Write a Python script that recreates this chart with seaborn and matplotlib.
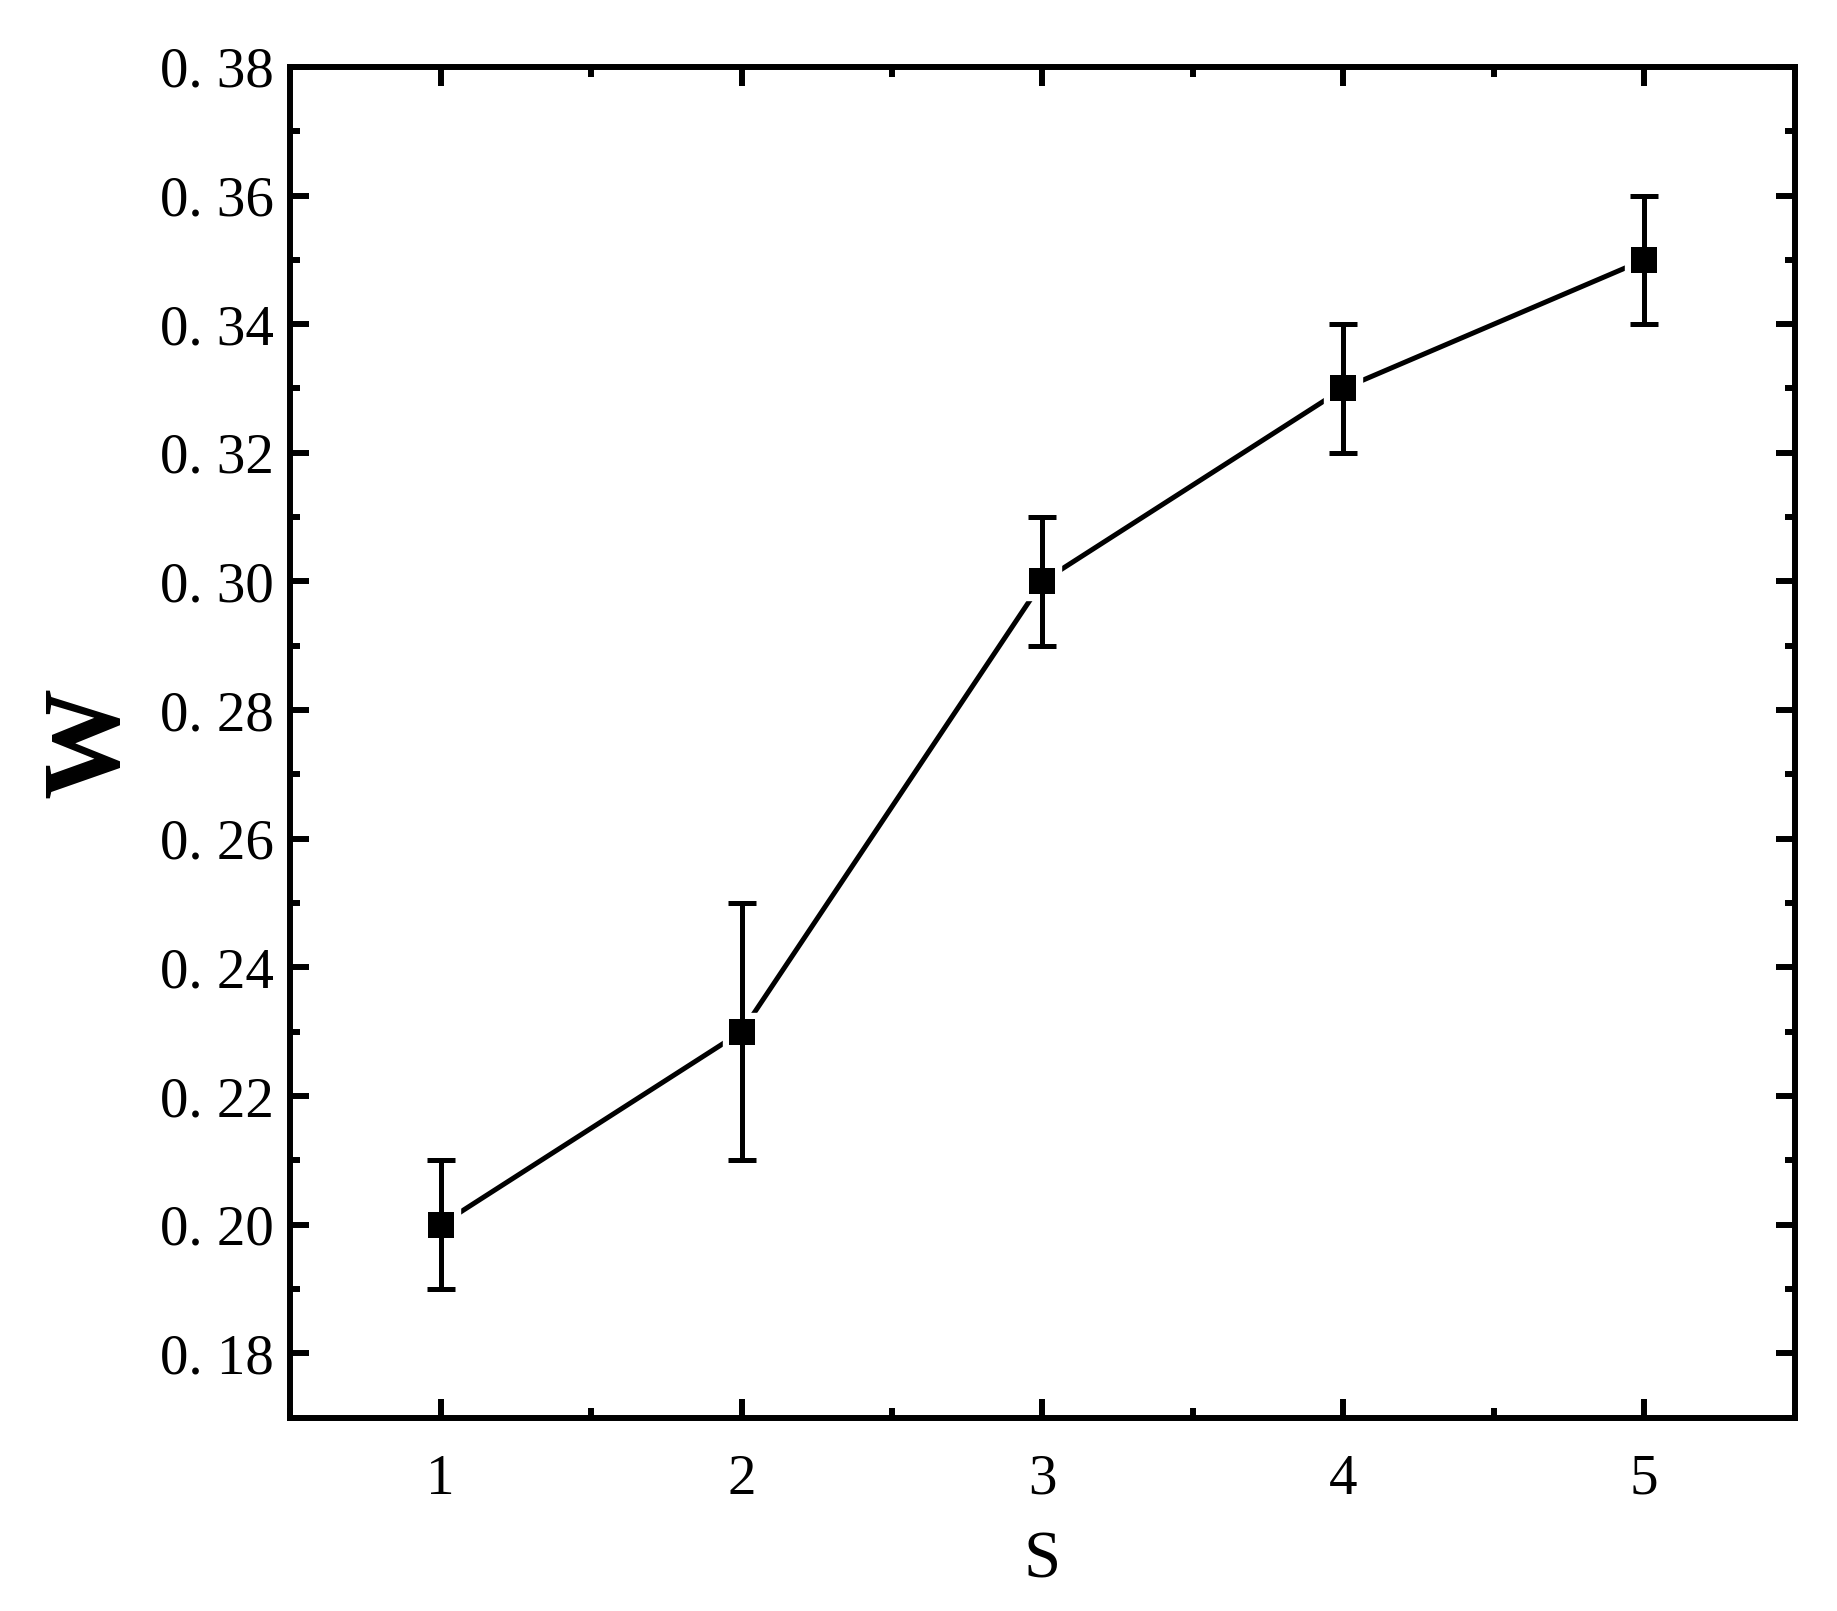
import numpy as np
import matplotlib
matplotlib.use('Agg')
import matplotlib.pyplot as plt
import seaborn as sns
from matplotlib.ticker import MultipleLocator

sns.set_theme(style='ticks')
plt.rcParams['font.family'] = ['Liberation Serif', 'DejaVu Serif']
plt.rcParams.update({
    'text.color': 'black',
    'axes.labelcolor': 'black',
    'xtick.color': 'black',
    'ytick.color': 'black',
})

# data
s_values = [1, 2, 3, 4, 5]
w_values = [0.20, 0.23, 0.30, 0.33, 0.35]
w_err = [0.01, 0.02, 0.01, 0.01, 0.01]

x_ticks = [1, 2, 3, 4, 5]
x_tick_labels = ['1', '2', '3', '4', '5']
y_ticks = [0.18, 0.20, 0.22, 0.24, 0.26, 0.28, 0.30, 0.32, 0.34, 0.36, 0.38]
y_tick_labels = ['0. 18', '0. 20', '0. 22', '0. 24', '0. 26', '0. 28',
                 '0. 30', '0. 32', '0. 34', '0. 36', '0. 38']


def main():
    fig = plt.figure(figsize=(18.37, 16.11), dpi=100)
    ax = fig.add_axes([0.158, 0.120, 0.819, 0.8385])

    # line, then white squares to leave a gap round each marker
    sns.lineplot(x=s_values, y=w_values, ax=ax, color='black', linewidth=3.6, zorder=1)
    ax.plot(s_values, w_values, linestyle='none', marker='s', markersize=27,
            color='white', zorder=2)
    ax.errorbar(s_values, w_values, yerr=w_err, fmt='none', ecolor='black',
                elinewidth=3.6, capsize=10, capthick=3.6, zorder=3)
    sns.scatterplot(x=s_values, y=w_values, ax=ax, marker='s', s=360,
                    color='black', edgecolor='black', linewidth=0, zorder=4)

    ax.set_xlim(0.5, 5.5)
    ax.set_ylim(0.17, 0.38)
    ax.set_xticks(x_ticks)
    ax.set_xticklabels(x_tick_labels)
    ax.set_yticks(y_ticks)
    ax.set_yticklabels(y_tick_labels)
    ax.xaxis.set_minor_locator(MultipleLocator(0.5))
    ax.yaxis.set_minor_locator(MultipleLocator(0.01))

    ax.tick_params(which='both', direction='in', top=True, right=True,
                   width=4.3, color='black')
    ax.tick_params(which='major', length=14)
    ax.tick_params(which='minor', length=7)
    ax.tick_params(axis='y', which='major', labelsize=41, pad=12)
    ax.tick_params(axis='x', which='major', labelsize=41, pad=26)
    ax.tick_params(labeltop=False, labelright=False)

    for side in ['left', 'right', 'top', 'bottom']:
        ax.spines[side].set_linewidth(4.3)
        ax.spines[side].set_color('black')
        ax.spines[side].set_visible(True)

    ax.set_xlabel('S', fontsize=48, labelpad=18)
    ax.set_ylabel('W', fontsize=80, fontweight='bold', labelpad=14)

    fig.savefig('out.png', dpi=100, facecolor='white')
    plt.close(fig)


if __name__ == '__main__':
    main()
